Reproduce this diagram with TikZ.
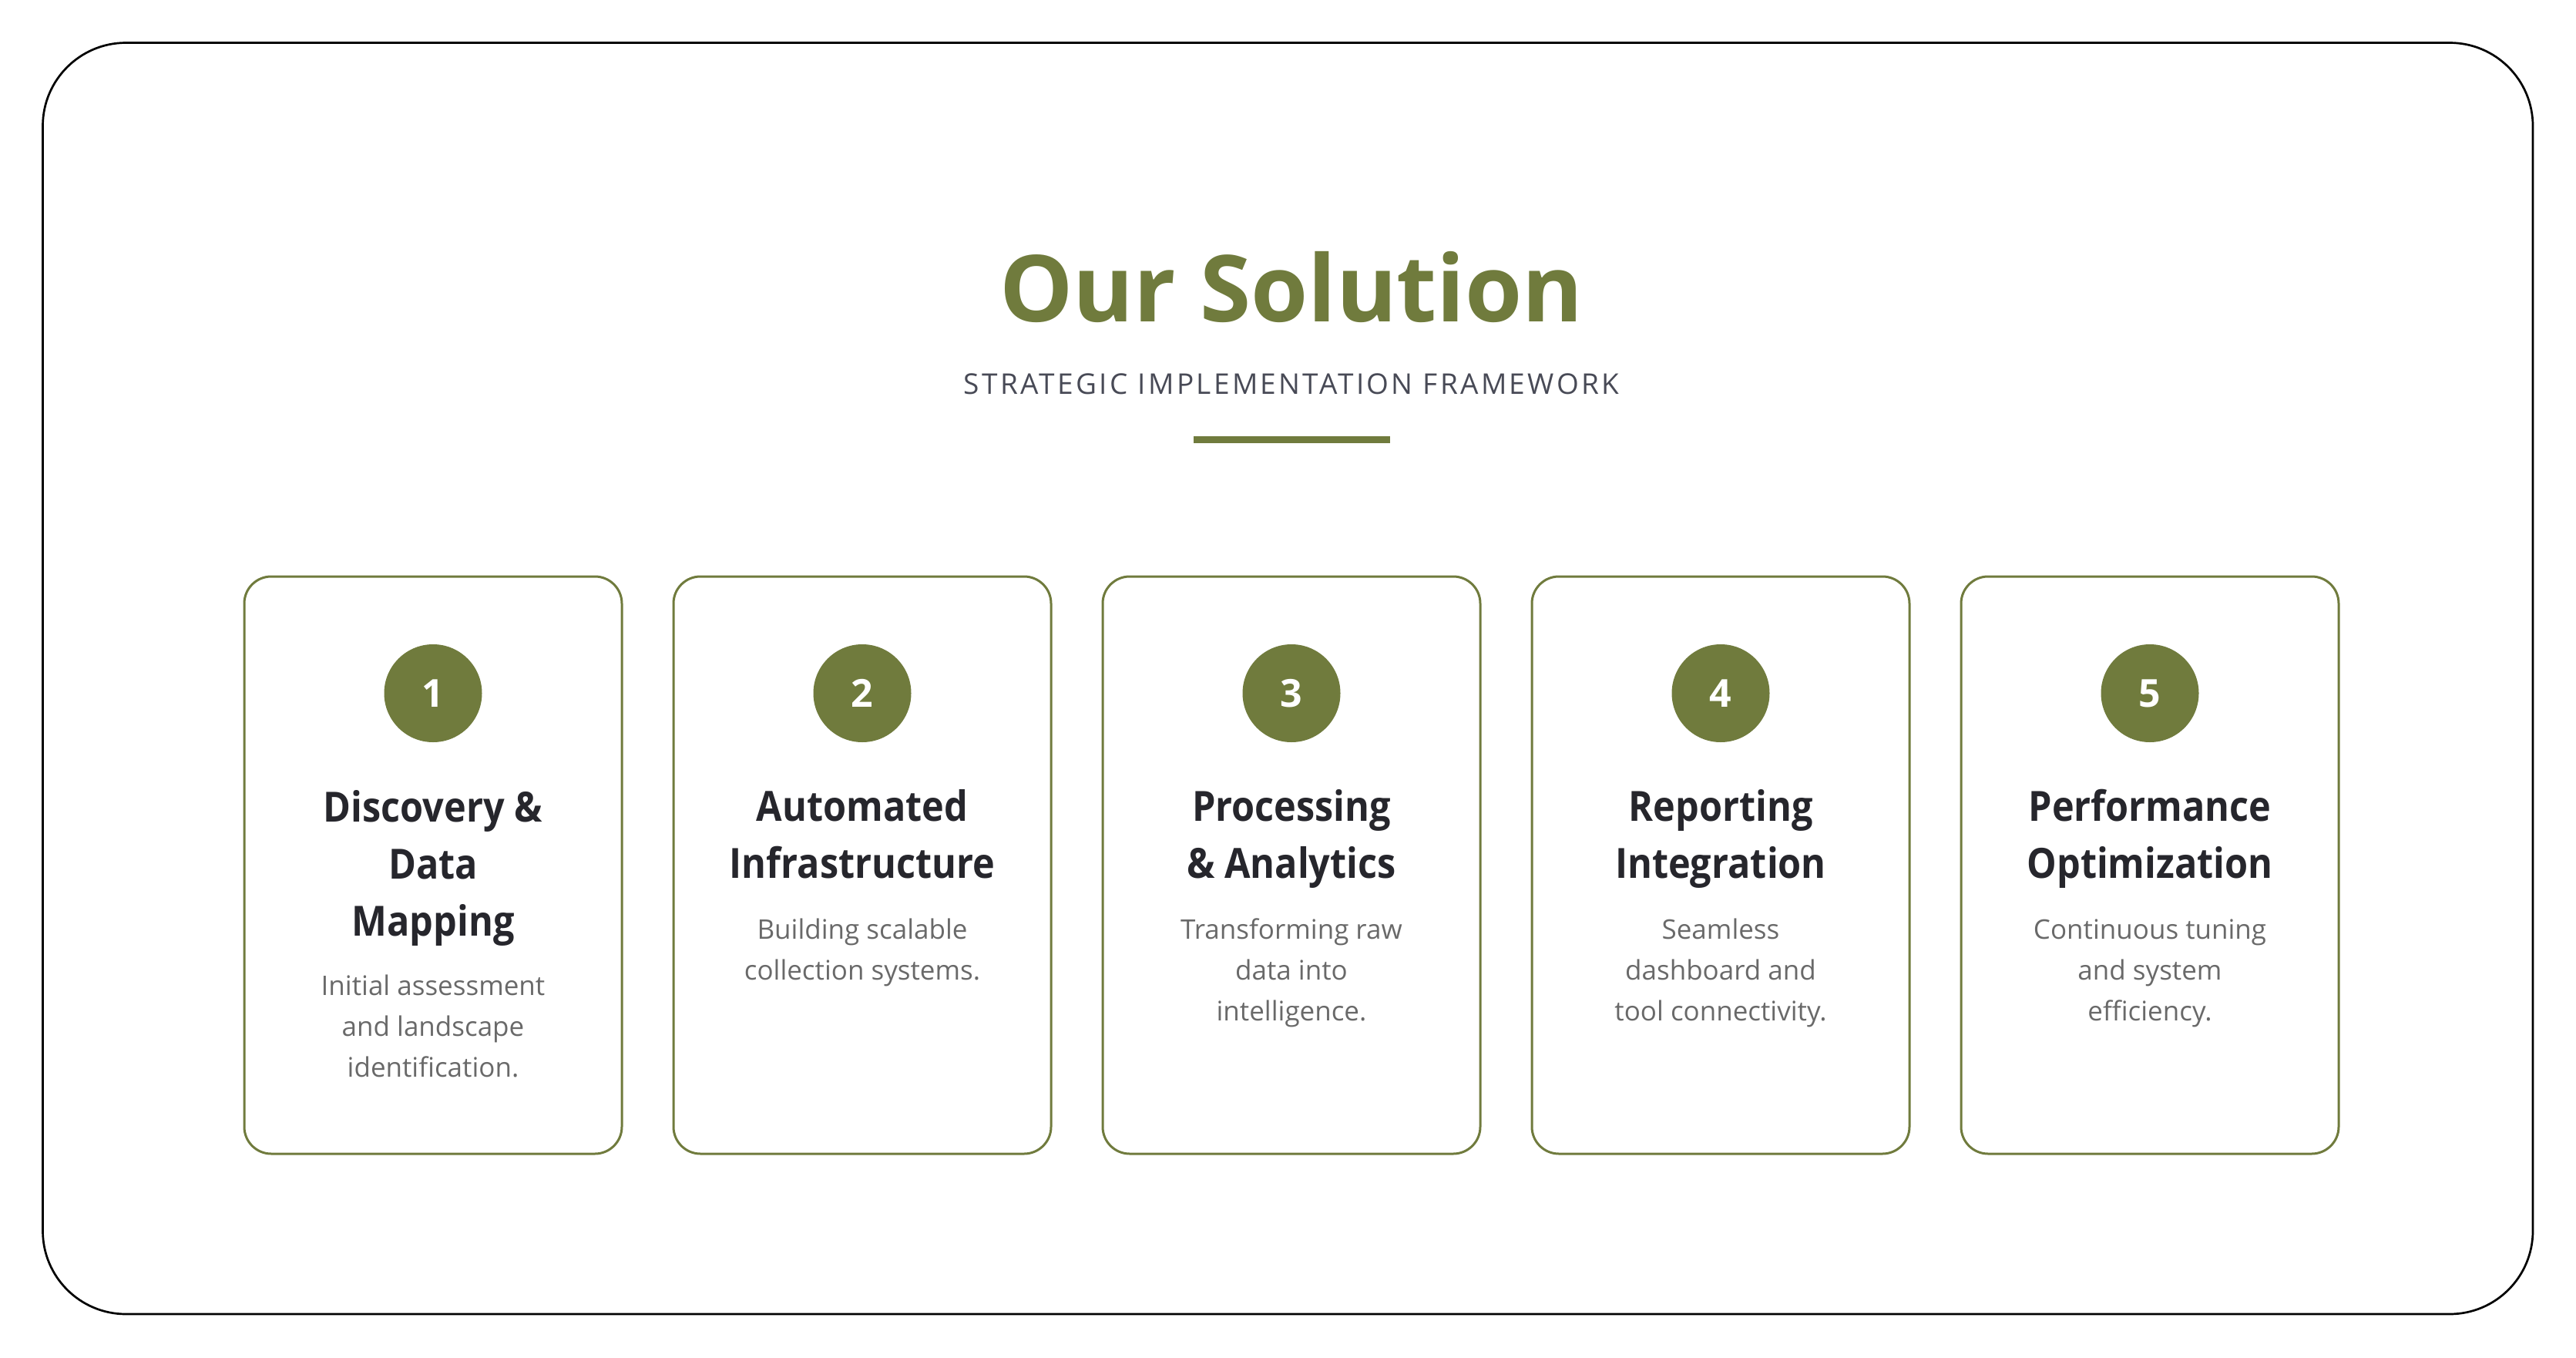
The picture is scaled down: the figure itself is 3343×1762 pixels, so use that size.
\documentclass[tikz,border=0pt]{standalone}
\usepackage{fontspec}
\setmainfont{Open Sans}
\usetikzlibrary{positioning}

\definecolor{olive}{RGB}{112,123,61}
\definecolor{headgray}{RGB}{38,38,44}
\definecolor{bodygray}{RGB}{105,105,105}
\definecolor{subgray}{RGB}{72,74,86}

\tikzset{
  card/.style={draw=olive, line width=1.5pt, rounded corners=17.5pt,
    minimum width=245pt, minimum height=374.5pt, inner sep=0pt},
  badge/.style={circle, fill=olive, minimum size=63.5pt, inner sep=0pt,
    text=white, font=\fontsize{25}{25}\selectfont\bfseries},
  cardhead/.style={anchor=base, align=center, text=headgray,
    font=\fontsize{27}{37}\selectfont\bfseries\addfontfeatures{FakeStretch=0.9}},
  carddesc/.style={anchor=base, align=center, text=bodygray,
    font=\fontsize{17.5}{26.5}\selectfont}
}

\begin{document}
\begin{tikzpicture}[x=0.5pt,y=-0.5pt]
  \useasboundingbox (0,0) rectangle (3343,1762);

  % outer frame
  \draw[line width=1.35pt, rounded corners=54pt] (55.5,55.5) rectangle (3287,1705);

  % title block
  \node[anchor=base, text=olive, font=\fontsize{60}{60}\selectfont\bfseries]
    (title) at (1676,417.5) {Our Solution};
  \node[anchor=base, text=subgray,
    font=\fontsize{18.5}{18.5}\selectfont\addfontfeatures{LetterSpace=9}]
    (subtitle) at (1676,511) {STRATEGIC IMPLEMENTATION FRAMEWORK};
  \coordinate (ruleL) at (1549,570.5);
  \coordinate (ruleR) at (1803.5,570.5);
  \draw[olive, line width=4.5pt] (ruleL) -- (ruleR);

  % the five steps (y values are the baselines of the last lines)
  \foreach \n/\cx/\hy/\head/\by/\desc in {
    1/562/1214/{Discovery \&\\Data\\Mapping}/1397/{Initial assessment\\and landscape\\identification.},
    2/1119/1139/{Automated\\Infrastructure}/1271/{Building scalable\\collection systems.},
    3/1676/1139/{Processing\\\& Analytics}/1324/{Transforming raw\\data into\\intelligence.},
    4/2233/1139/{Reporting\\Integration}/1324/{Seamless\\dashboard and\\tool connectivity.},
    5/2790/1139/{Performance\\Optimization}/1324/{Continuous tuning\\and system\\efficiency.}} {
    \node[card] (card\n) at (\cx,1122.5) {};
    \node[badge] (num\n) at (\cx,899.5) {\n};
    \node[cardhead] (head\n) at (\cx,\hy) {\head};
    \node[carddesc] (desc\n) at (\cx,\by) {\desc};
  }

\end{tikzpicture}
\end{document}
